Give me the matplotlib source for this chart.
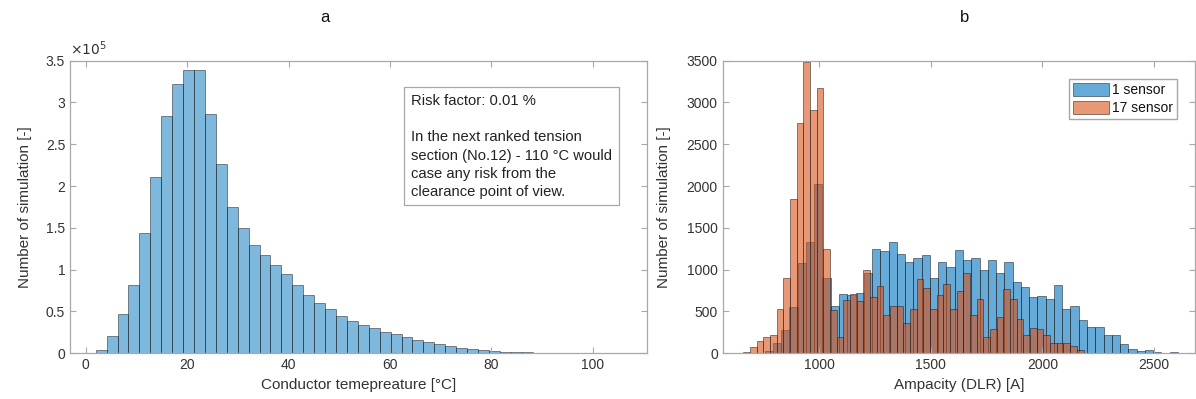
import numpy as np
import matplotlib
matplotlib.use('Agg')
import matplotlib.pyplot as plt
from matplotlib.ticker import MultipleLocator, FuncFormatter

plt.rcParams['font.family'] = ['Liberation Sans', 'DejaVu Sans']

# a: conductor temperature histogram (counts in units of 1e5)
temp_bin_start = 1.97
temp_bin_width = 2.154
temp_counts = [0.04, 0.21, 0.47, 0.82, 1.44, 2.11, 2.84, 3.22, 3.39, 3.39,
               2.86, 2.26, 1.75, 1.50, 1.29, 1.18, 1.05, 0.95, 0.82, 0.70,
               0.60, 0.53, 0.45, 0.39, 0.34, 0.30, 0.255, 0.23, 0.19, 0.165,
               0.14, 0.115, 0.09, 0.06, 0.05, 0.035, 0.025, 0.018, 0.014, 0.011,
               0.009]

# b: ampacity histograms
one_bin_start = 719.6
one_bin_width = 37.0
one_sensor = [5, 25, 120, 280, 550, 1080, 1330, 2030, 895,
              570, 710, 700, 720, 955, 1250, 1225, 1330, 1185, 1095,
              1135, 1170, 905, 1095, 1035, 1235, 1120, 1140, 995, 1115,
              960, 1095, 855, 795, 675, 685, 655, 815, 525, 565,
              400, 310, 310, 215, 215, 110, 50, 30, 40, 10,
              0, 10]

seventeen_bin_start = 661.6
seventeen_bin_width = 29.85
seventeen_sensor = [20, 80, 150, 200, 215, 525, 895, 1845, 2750, 3480,
                    2910, 3170, 1250, 515, 190, 640, 715, 625, 995, 675,
                    800, 455, 570, 570, 360, 525, 885, 775, 535, 695,
                    825, 535, 740, 955, 460, 645, 200, 285, 435, 770,
                    655, 405, 220, 300, 290, 220, 120, 120, 125, 90,
                    40]

risk_text = ("Risk factor: 0.01 %\n\n"
             "In the next ranked tension\n"
             "section (No.12) - 110 °C would\n"
             "case any risk from the\n"
             "clearance point of view.")

spine_col = '#a8a8a8'
text_col = '#333333'
blue = '#0072BD'
orange = '#D95319'


def style_axes(ax):
    for s in ax.spines.values():
        s.set_color(spine_col)
        s.set_linewidth(0.9)
    ax.tick_params(direction='in', top=True, right=True, length=4,
                   color=spine_col, labelcolor=text_col, labelsize=10)


fig = plt.figure(figsize=(11.96, 3.99), dpi=100)
W, H = 1196, 399

# ---- panel a ----
ax1 = fig.add_axes([70 / W, 1 - 353.3 / H, 577 / W, 292.7 / H])
edges1 = temp_bin_start + temp_bin_width * np.arange(len(temp_counts))
ax1.bar(edges1, temp_counts, width=temp_bin_width, align='edge',
        color=blue, alpha=0.5, edgecolor='#1a1a1a', linewidth=0.7)
ax1.set_xlim(-3.1, 110.7)
ax1.set_ylim(0, 3.5)
ax1.xaxis.set_major_locator(MultipleLocator(20))
ax1.yaxis.set_major_locator(MultipleLocator(0.5))
ax1.yaxis.set_major_formatter(FuncFormatter(lambda v, p: '%g' % v))
style_axes(ax1)
ax1.set_xlabel('Conductor temepreature [°C]', fontsize=11, color=text_col)
ax1.set_ylabel('Number of simulation [-]', fontsize=11, color=text_col, labelpad=10)
ax1.text(0.0, 1.01, r'$\times10^{5}$', transform=ax1.transAxes,
         fontsize=10, color=text_col, ha='left', va='bottom')
ax1.text(0.591, 0.886, risk_text, transform=ax1.transAxes, fontsize=10.6,
         color='#222222', ha='left', va='top', linespacing=1.38,
         bbox=dict(boxstyle='square,pad=0.45', fc='white', ec=spine_col, lw=0.9))

# ---- panel b ----
ax2 = fig.add_axes([722.7 / W, 1 - 353.3 / H, 472.3 / W, 292.7 / H])
edges_one = one_bin_start + one_bin_width * np.arange(len(one_sensor))
edges_17 = seventeen_bin_start + seventeen_bin_width * np.arange(len(seventeen_sensor))
ax2.bar(edges_one, one_sensor, width=one_bin_width, align='edge',
        color=blue, alpha=0.6, edgecolor='#1a1a1a', linewidth=0.6, label='1 sensor')
ax2.bar(edges_17, seventeen_sensor, width=seventeen_bin_width, align='edge',
        color=orange, alpha=0.6, edgecolor='#1a1a1a', linewidth=0.6, label='17 sensor')
ax2.set_xlim(569, 2683)
ax2.set_ylim(0, 3500)
ax2.xaxis.set_major_locator(MultipleLocator(500))
ax2.yaxis.set_major_locator(MultipleLocator(500))
style_axes(ax2)
ax2.set_xlabel('Ampacity (DLR) [A]', fontsize=11, color=text_col)
ax2.set_ylabel('Number of simulation [-]', fontsize=11, color=text_col, labelpad=11)
leg = ax2.legend(loc='upper right', fontsize=10, fancybox=False, framealpha=1,
                 edgecolor=spine_col, handlelength=2.6, handleheight=1.1,
                 handletextpad=0.2, borderpad=0.3, labelspacing=0.25,
                 borderaxespad=1.3)
for t in leg.get_texts():
    t.set_color('#111111')

fig.text(325 / W, 1 - 18 / H, 'a', fontsize=12, ha='center', va='center', color='#111111')
fig.text(965 / W, 1 - 18 / H, 'b', fontsize=12, ha='center', va='center', color='#111111')

fig.savefig('out.png', dpi=100)
